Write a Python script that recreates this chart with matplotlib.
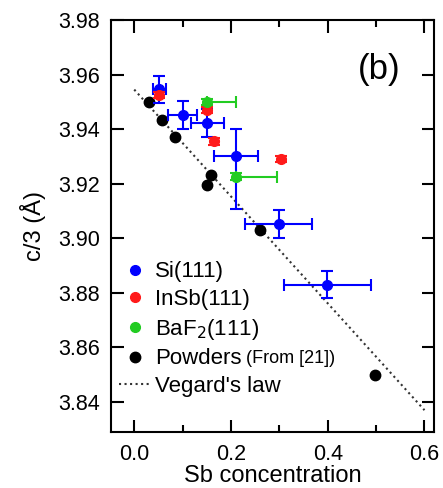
import numpy as np
import matplotlib
matplotlib.use('Agg')
import matplotlib.pyplot as plt

plt.rcParams['font.family'] = ['Liberation Sans', 'DejaVu Sans']

# Si(111)
si_x = [0.052, 0.100, 0.151, 0.210, 0.299, 0.399]
si_y = [3.9546, 3.9452, 3.9422, 3.9302, 3.9052, 3.8830]
si_xerr = [0.013, 0.030, 0.034, 0.046, 0.069, 0.090]
si_yerr_lo = [0.0049, 0.005, 0.005, 0.0195, 0.005, 0.005]
si_yerr_hi = [0.0049, 0.005, 0.005, 0.0100, 0.005, 0.005]

# InSb(111)
insb_x = [0.052, 0.151, 0.1655, 0.303]
insb_y = [3.9525, 3.9470, 3.9355, 3.9291]
insb_yerr = [0.0012, 0.0012, 0.0012, 0.0012]

# BaF2(111)
baf_x = [0.150, 0.210]
baf_y = [3.9499, 3.9226]
baf_xerr_hi = [0.060, 0.085]
baf_yerr = [0.0012, 0.0012]

# Powders (From [21])
pow_x = [0.030, 0.057, 0.085, 0.150, 0.158, 0.260, 0.497]
pow_y = [3.9499, 3.9434, 3.9370, 3.9196, 3.9232, 3.9031, 3.8500]

# Vegard's law
veg_x = [0.0, 0.6]
veg_y = [3.9545, 3.8370]

fig, ax = plt.subplots(figsize=(4.43, 4.88), dpi=100)
fig.subplots_adjust(left=0.2506, right=0.980, top=0.959, bottom=0.1148)

ax.plot(veg_x, veg_y, ':', color='#333333', lw=1.5, label="Vegard's law", zorder=1)
ax.plot(pow_x, pow_y, 'o', color='black', ms=7.5, label='Powders', zorder=2)
ax.errorbar(si_x, si_y, xerr=si_xerr, yerr=[si_yerr_lo, si_yerr_hi], fmt='o',
            color='#0000ff', ms=7, lw=1.5, capsize=4, capthick=1.5, label='Si(111)', zorder=3)
ax.errorbar(insb_x, insb_y, yerr=insb_yerr, fmt='o', color='#ff1a1a', ms=7,
            lw=1.5, capsize=4, capthick=1.5, label='InSb(111)', zorder=4)
ax.errorbar(baf_x, baf_y, xerr=[[0, 0], baf_xerr_hi], yerr=baf_yerr, fmt='o',
            color='#22cc22', ms=7, lw=1.5, capsize=4, capthick=1.5,
            label='BaF$_2$(111)', zorder=5)

ax.set_xlim(-0.048, 0.62)
ax.set_ylim(3.829, 3.98)
ax.set_xticks([0.0, 0.2, 0.4, 0.6])
ax.set_xticks([0.1, 0.3, 0.5], minor=True)
ax.set_yticks(np.arange(3.84, 3.981, 0.02))
ax.set_xticklabels(['0.0', '0.2', '0.4', '0.6'])
ax.set_yticklabels(['%.2f' % v for v in np.arange(3.84, 3.981, 0.02)])
ax.tick_params(which='both', direction='in', top=True, right=True, labelsize=15.5, width=1.5)
ax.tick_params(axis='y', which='major', length=9, pad=8)
ax.tick_params(axis='x', which='major', length=9, pad=9)
ax.tick_params(which='minor', length=5)
for s in ax.spines.values():
    s.set_linewidth(1.5)

ax.set_xlabel('Sb concentration', fontsize=17, labelpad=0)
ax.set_ylabel('c/3 (Å)', fontsize=17, labelpad=9)
ax.text(0.83, 0.88, '(b)', transform=ax.transAxes, fontsize=25, ha='center', va='center')

# legenda so com os marcadores (sem barras de erro)
h, l = ax.get_legend_handles_labels()
order = [2, 3, 4, 1, 0]
handles = []
for i in order:
    handles.append(h[i][0] if hasattr(h[i], 'lines') else h[i])
leg = ax.legend(handles, [l[i] for i in order], loc='lower left',
                bbox_to_anchor=(0.026, 0.085), frameon=False, fontsize=16,
                handlelength=1.4, handletextpad=0.2, labelspacing=0.3,
                borderaxespad=0, borderpad=0)
fig.canvas.draw()
pow_text = leg.get_texts()[3]
ax.annotate(' (From [21])', xy=(1, 0.1), xycoords=pow_text, fontsize=13,
            va='bottom', ha='left', zorder=10)

plt.savefig('out.png', dpi=100)
